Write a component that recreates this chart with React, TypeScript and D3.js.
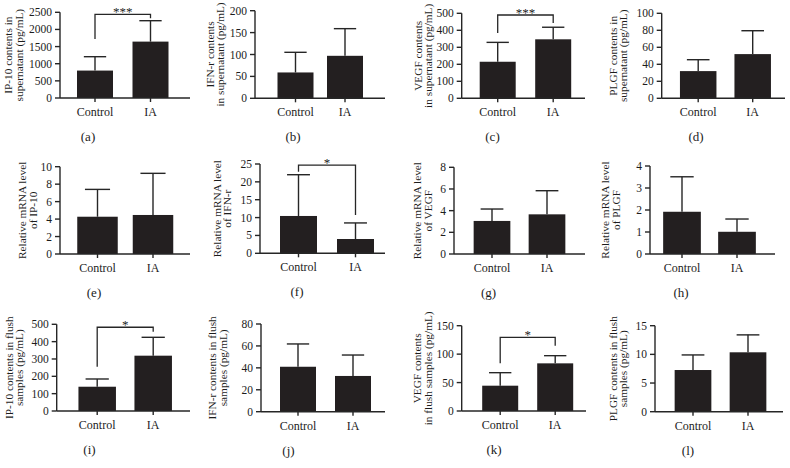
import React from "react";
import * as d3 from "d3";

const categories = ["Control", "IA"];
const panelLetters = ["(a)", "(b)", "(c)", "(d)", "(e)", "(f)", "(g)", "(h)", "(i)", "(j)", "(k)", "(l)"];
const yLabels = [
  ["IP-10 contents in", "supernatant (pg/mL)"],
  ["IFN-r contents", "in supernatant (pg/mL)"],
  ["VEGF contents", "in supernatant (pg/mL)"],
  ["PLGF contents in", "supernatant (pg/mL)"],
  ["Relative mRNA level", "of IP-10"],
  ["Relative mRNA level", "of IFN-r"],
  ["Relative mRNA level", "of VEGF"],
  ["Relative mRNA level", "of PLGF"],
  ["IP-10 contents in flush", "samples (pg/mL)"],
  ["IFN-r contents in flush", "samples (pg/mL)"],
  ["VEGF contents", "in flush samples (pg/mL)"],
  ["PLGF contents in flush", "samples (pg/mL)"],
];
const means = [
  [800, 1645], [59, 97], [215, 347], [32, 52],
  [4.27, 4.47], [10.45, 4.0], [3.05, 3.66], [1.92, 1.01],
  [140, 319], [41, 32.6], [44.5, 83.8], [7.27, 10.36],
];
const sds = [
  [405, 610], [46, 62], [114, 71], [13.4, 27.5],
  [3.13, 4.77], [11.55, 4.5], [1.1, 2.18], [1.59, 0.58],
  [44.6, 106], [20.8, 19.1], [22.9, 13.5], [2.63, 3.04],
];
const yMax = [2500, 200, 500, 100, 10, 25, 8, 4, 500, 80, 150, 15];
const yStep = [500, 50, 100, 20, 2, 5, 2, 1, 100, 20, 50, 5];
const significance = [
  { panel: 0, label: "***", bar: 2440, leftEnd: 1720, rightEnd: 2330 },
  { panel: 2, label: "***", bar: 490, leftEnd: 384, rightEnd: 443 },
  { panel: 5, label: "*", bar: 24.7, leftEnd: 22.8, rightEnd: 10.7 },
  { panel: 8, label: "*", bar: 483, leftEnd: 255, rightEnd: 457 },
  { panel: 10, label: "*", bar: 129.6, leftEnd: 83.9, rightEnd: 114.8 },
];

// layout (pixel frames per panel)
const layout = [
  { x0: 60, x1: 190, top: 12.3, zero: 98, c0: 35, step: 55.5, bw: 36, l1: -52, l2: -41, lx: 88 },
  { x0: 255, x1: 385, top: 10.7, zero: 98.3, c0: 40.5, step: 49.5, bw: 36, l1: -45, l2: -35, lx: 293 },
  { x0: 461.7, x1: 585, top: 13.3, zero: 98.3, c0: 36, step: 55.5, bw: 36, l1: -44, l2: -34, lx: 492.5 },
  { x0: 661.7, x1: 785, top: 13.3, zero: 98.3, c0: 36.5, step: 54.5, bw: 36.5, l1: -49, l2: -39, lx: 696 },
  { x0: 60, x1: 190, top: 166.7, zero: 254, c0: 37.5, step: 55.5, bw: 40.5, l1: -38, l2: -27, lx: 94 },
  { x0: 260, x1: 385, top: 164, zero: 253.3, c0: 38.5, step: 57, bw: 37, l1: -43, l2: -33, lx: 297 },
  { x0: 454, x1: 585, top: 167.3, zero: 254, c0: 38, step: 55, bw: 36.7, l1: -37, l2: -26, lx: 488.5 },
  { x0: 650, x1: 775, top: 166, zero: 254, c0: 32, step: 55, bw: 37.7, l1: -45, l2: -34, lx: 681 },
  { x0: 56.7, x1: 190, top: 324.3, zero: 411, c0: 40.5, step: 56, bw: 37.5, l1: -48, l2: -38, lx: 89.5 },
  { x0: 261, x1: 385, top: 324, zero: 411.7, c0: 37, step: 55, bw: 36, l1: -49, l2: -38, lx: 288.5 },
  { x0: 461.7, x1: 586, top: 325.7, zero: 411, c0: 38.5, step: 55, bw: 36, l1: -45, l2: -34, lx: 494 },
  { x0: 655, x1: 783, top: 325.7, zero: 411.7, c0: 38, step: 55, bw: 36.7, l1: -42, l2: -32, lx: 688 },
];

const FONT = "'Liberation Serif', 'Times New Roman', serif";
const INK = "#231f20";
const AX = "#262626";
const TXT = "#1c1c1c";

function Panel({ i }: { i: number }) {
  const L = layout[i];
  const pi = 1 - L.bw / L.step;
  const x = d3
    .scaleBand()
    .domain(categories)
    .range([L.x0 + L.c0 - L.step / 2, L.x0 + L.c0 + 1.5 * L.step])
    .paddingInner(pi)
    .paddingOuter(pi / 2);
  const y = d3.scaleLinear().domain([0, yMax[i]]).range([L.zero, L.top]);
  const ticks = d3.range(0, yMax[i] + yStep[i] / 2, yStep[i]);
  const midY = (L.top + L.zero) / 2;
  const sig = significance.filter((s) => s.panel === i);
  const bw = x.bandwidth();
  const cap = bw * 0.62;
  return (
    <g>
      {categories.map((c, k) => {
        const xc = (x(c) as number) + bw / 2;
        const m = means[i][k];
        const e = m + sds[i][k];
        return (
          <g key={c}>
            <line x1={xc} x2={xc} y1={y(m)} y2={y(e)} stroke={AX} strokeWidth={1.4} />
            <line x1={xc - cap / 2} x2={xc + cap / 2} y1={y(e)} y2={y(e)} stroke={AX} strokeWidth={1.4} />
            <rect x={x(c)} y={y(m)} width={bw} height={L.zero - y(m)} fill={INK} />
          </g>
        );
      })}
      <line x1={L.x0} x2={L.x0} y1={L.top} y2={L.zero} stroke={AX} strokeWidth={1.4} />
      <line x1={L.x0} x2={L.x1} y1={L.zero} y2={L.zero} stroke={AX} strokeWidth={1.4} />
      {ticks.map((t) => (
        <g key={t}>
          <line x1={L.x0 - 5} x2={L.x0} y1={y(t)} y2={y(t)} stroke={AX} strokeWidth={1.4} />
          <text x={L.x0 - 8} y={y(t)} dy="0.35em" textAnchor="end" fontSize={11.5} fontFamily={FONT} fill={TXT}>
            {t}
          </text>
        </g>
      ))}
      {categories.map((c) => {
        const xc = (x(c) as number) + bw / 2;
        return (
          <g key={c}>
            <line x1={xc} x2={xc} y1={L.zero} y2={L.zero + 4} stroke={AX} strokeWidth={1.4} />
            <text x={xc} y={L.zero + 18} textAnchor="middle" fontSize={12} fontFamily={FONT} fill={TXT}>
              {c}
            </text>
          </g>
        );
      })}
      <text
        transform={`translate(${L.x0 + L.l1},${midY}) rotate(-90)`}
        dy="0.35em"
        textAnchor="middle"
        fontSize={11.3}
        fontFamily={FONT}
        fill={TXT}
      >
        {yLabels[i][0]}
      </text>
      <text
        transform={`translate(${L.x0 + L.l2},${midY}) rotate(-90)`}
        dy="0.35em"
        textAnchor="middle"
        fontSize={11.3}
        fontFamily={FONT}
        fill={TXT}
      >
        {yLabels[i][1]}
      </text>
      <text x={L.lx} y={L.zero + 43} textAnchor="middle" fontSize={13} fontFamily={FONT} fill={TXT}>
        {panelLetters[i]}
      </text>
      {sig.map((s, k) => {
        const xa = (x(categories[0]) as number) + bw / 2;
        const xb = (x(categories[1]) as number) + bw / 2;
        const path = `M${xa},${y(s.leftEnd)}V${y(s.bar)}H${xb}V${y(s.rightEnd)}`;
        return (
          <g key={k}>
            <path d={path} fill="none" stroke={AX} strokeWidth={1.3} />
            <text x={(xa + xb) / 2} y={y(s.bar) + 2} textAnchor="middle" fontSize={13} fontFamily={FONT} fill={TXT}>
              {s.label}
            </text>
          </g>
        );
      })}
    </g>
  );
}

export default function App() {
  return (
    <svg width={790} height={468} style={{ position: "absolute", left: 0, top: 0, background: "#fff" }}>
      <rect width={790} height={468} fill="#fff" />
      {layout.map((_, i) => (
        <Panel key={i} i={i} />
      ))}
    </svg>
  );
}
